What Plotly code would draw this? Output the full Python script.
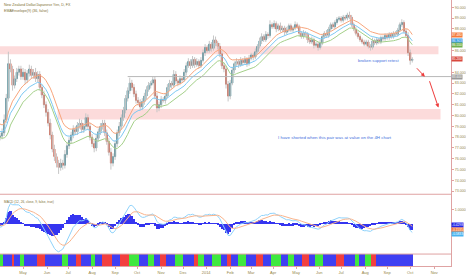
import numpy as np
import pandas as pd
import plotly.graph_objects as go

START = "2013-03-04"          # first (warm-up) candle, 2 trading days per candle

closes = [
    78.6, 79.0, 79.3, 79.6, 79.2, 78.8, 78.5, 78.2, 77.9, 78.0,
    78.1, 78.4, 79.6, 81.6, 84.8, 84.3, 82.8, 83.4, 84.0, 84.3,
    83.6, 84.0, 83.3, 83.9, 84.3, 83.7, 84.0, 83.4, 83.8, 82.6,
    81.9, 81.0, 80.3, 79.3, 78.2, 76.9, 76.2, 75.6, 75.2, 75.6,
    75.4, 76.4, 77.2, 77.7, 78.2, 78.7, 78.5, 79.1, 79.3, 78.7,
    79.0, 79.8, 79.0, 78.0, 77.4, 77.0, 77.9, 78.5, 79.0, 79.3,
    78.4, 77.6, 76.6, 75.6, 76.2, 77.4, 78.4, 79.0, 79.8, 80.5,
    81.6, 82.3, 83.0, 82.6, 82.0, 81.4, 81.2, 80.8, 81.3, 81.8,
    82.4, 82.8, 83.0, 83.3, 81.8, 80.7, 81.0, 81.5, 81.4, 81.8,
    82.6, 83.0, 82.8, 83.8, 83.2, 83.0, 83.4, 83.3, 84.0, 84.6,
    85.0, 84.6, 85.2, 84.7, 85.0, 84.6, 85.1, 85.8, 86.3, 86.0,
    86.6, 86.2, 87.0, 86.7, 86.4, 85.7, 84.6, 84.3, 82.9, 81.8,
    83.0, 84.2, 84.8, 85.0, 84.7, 85.1, 84.9, 85.2, 84.8, 85.3,
    85.6, 85.4, 85.9, 86.4, 86.9, 87.3, 87.0, 87.5, 87.4, 88.4,
    88.2, 88.5, 88.0, 88.3, 87.9, 88.1, 87.7, 87.9, 88.3, 87.9,
    88.1, 88.4, 88.2, 87.6, 87.3, 87.6, 87.5, 87.0, 86.8, 87.0,
    86.5, 86.6, 86.3, 86.7, 87.3, 87.6, 87.4, 88.0, 88.4, 88.2,
    88.6, 88.9, 89.0, 88.8, 89.1, 89.0, 89.3, 89.1, 88.4, 88.0,
    87.6, 87.3, 87.0, 86.8, 86.6, 86.8, 86.4, 86.3, 86.9, 86.7,
    87.0, 86.8, 87.2, 87.1, 87.4, 87.2, 87.5, 87.3, 87.6, 87.5,
    87.9, 88.4, 88.6, 87.8, 87.4, 85.8, 85.1, 85.2,
]

wick_up = [
    0.6, 0.6, 0.5, 0.6, 0.5, 0.6, 0.5, 0.6, 0.5, 0.6,
    0.3, 0.4, 0.5, 0.4, 1.1, 0.4, 0.3, 0.3, 0.4, 0.3,
    0.3, 0.4, 0.3, 0.3, 0.4, 0.3, 0.3, 0.4, 0.3, 0.3,
    0.3, 0.4, 0.3, 0.3, 0.4, 0.3, 0.4, 0.3, 0.3, 0.4,
    0.3, 0.4, 0.3, 0.3, 0.3, 0.4, 0.3, 0.3, 0.4, 0.3,
    0.3, 0.4, 0.3, 0.3, 0.3, 0.3, 0.4, 0.3, 0.3, 0.3,
    0.3, 0.3, 0.3, 0.4, 0.3, 0.3, 0.3, 0.4, 0.3, 0.3,
    0.3, 0.3, 0.5, 0.3, 0.3, 0.3, 0.3, 0.3, 0.3, 0.3,
    0.3, 0.3, 0.2, 0.3, 0.3, 0.3, 0.3, 0.3, 0.2, 0.3,
    0.3, 0.3, 0.2, 0.4, 0.3, 0.2, 0.3, 0.2, 0.3, 0.3,
    0.3, 0.2, 0.3, 0.2, 0.3, 0.2, 0.3, 0.3, 0.3, 0.2,
    0.3, 0.2, 0.4, 0.3, 0.2, 0.3, 0.3, 0.3, 0.3, 0.3,
    0.3, 0.3, 0.2, 0.3, 0.2, 0.3, 0.2, 0.3, 0.2, 0.3,
    0.2, 0.2, 0.3, 0.2, 0.3, 0.3, 0.2, 0.3, 0.2, 0.4,
    0.2, 0.3, 0.2, 0.2, 0.3, 0.2, 0.2, 0.3, 0.2, 0.2,
    0.2, 0.3, 0.2, 0.2, 0.2, 0.3, 0.2, 0.2, 0.2, 0.3,
    0.2, 0.2, 0.2, 0.3, 0.2, 0.2, 0.3, 0.2, 0.2, 0.2,
    0.2, 0.2, 0.2, 0.2, 0.2, 0.2, 0.2, 0.3, 0.2, 0.2,
    0.2, 0.2, 0.2, 0.2, 0.2, 0.2, 0.2, 0.2, 0.3, 0.2,
    0.2, 0.2, 0.2, 0.2, 0.2, 0.2, 0.2, 0.2, 0.2, 0.2,
    0.2, 0.2, 0.3, 0.2, 0.2, 0.3, 0.3, 0.2,
]

wick_dn = [
    0.6, 0.5, 0.6, 0.5, 0.6, 0.5, 0.6, 0.5, 0.6, 0.5,
    0.3, 0.3, 0.3, 0.3, 0.3, 0.3, 0.5, 0.3, 0.3, 0.3,
    0.3, 0.3, 0.4, 0.3, 0.3, 0.3, 0.3, 0.3, 0.3, 0.3,
    0.3, 0.3, 0.4, 0.3, 0.4, 0.3, 0.4, 0.4, 0.6, 0.3,
    0.4, 0.3, 0.3, 0.3, 0.3, 0.3, 0.3, 0.3, 0.3, 0.3,
    0.3, 0.3, 0.3, 0.3, 0.3, 0.4, 0.3, 0.3, 0.3, 0.3,
    0.3, 0.3, 0.3, 0.6, 0.3, 0.3, 0.3, 0.3, 0.3, 0.3,
    0.3, 0.3, 0.3, 0.3, 0.3, 0.3, 0.3, 0.3, 0.3, 0.3,
    0.3, 0.2, 0.3, 0.2, 0.3, 0.4, 0.3, 0.3, 0.2, 0.3,
    0.2, 0.3, 0.3, 0.2, 0.3, 0.3, 0.2, 0.3, 0.2, 0.3,
    0.2, 0.3, 0.2, 0.3, 0.2, 0.3, 0.2, 0.2, 0.3, 0.2,
    0.2, 0.3, 0.2, 0.3, 0.3, 0.3, 0.3, 0.3, 0.4, 0.5,
    0.3, 0.2, 0.3, 0.2, 0.3, 0.2, 0.3, 0.2, 0.3, 0.2,
    0.2, 0.3, 0.2, 0.2, 0.2, 0.3, 0.2, 0.2, 0.3, 0.2,
    0.2, 0.2, 0.3, 0.2, 0.2, 0.2, 0.3, 0.2, 0.2, 0.2,
    0.2, 0.2, 0.2, 0.3, 0.2, 0.2, 0.2, 0.3, 0.2, 0.2,
    0.3, 0.2, 0.3, 0.2, 0.2, 0.2, 0.2, 0.2, 0.2, 0.2,
    0.2, 0.2, 0.2, 0.2, 0.2, 0.2, 0.2, 0.2, 0.2, 0.2,
    0.2, 0.2, 0.2, 0.2, 0.2, 0.2, 0.2, 0.3, 0.2, 0.2,
    0.2, 0.2, 0.2, 0.2, 0.2, 0.2, 0.2, 0.2, 0.2, 0.2,
    0.2, 0.2, 0.2, 0.2, 0.2, 0.3, 0.4, 0.2,
]

# bottom colour strip: (colour code, number of candles)
strip_runs = [
    ("B", 10), ("G", 2), ("B", 4), ("R", 1), ("B", 3), ("G", 2), ("B", 6), ("R", 4),
    ("B", 8), ("G", 3), ("B", 4), ("R", 2), ("B", 5), ("G", 2), ("B", 3), ("R", 5),
    ("B", 4), ("R", 4), ("G", 5), ("B", 4), ("G", 3), ("B", 3), ("R", 3), ("B", 4),
    ("G", 4), ("B", 5), ("R", 2), ("G", 3), ("B", 4), ("G", 4), ("B", 3), ("R", 2),
    ("B", 3), ("G", 4), ("B", 5), ("R", 3), ("B", 4), ("G", 5), ("B", 3), ("G", 3),
    ("B", 4), ("R", 3), ("B", 3), ("G", 4), ("B", 6), ("R", 4), ("B", 5), ("G", 2),
    ("B", 3), ("G", 3), ("R", 2), ("B", 6),
]

month_starts = ["2013-05-01", "2013-06-01", "2013-07-01", "2013-08-01", "2013-09-01",
                "2013-10-01", "2013-11-01", "2013-12-01", "2014-01-01", "2014-02-01",
                "2014-03-01", "2014-04-01", "2014-05-01", "2014-06-01", "2014-07-01",
                "2014-08-01", "2014-09-01", "2014-10-01", "2014-11-01"]
month_labels = ["May", "Jun", "Jul", "Aug", "Sep", "Oct", "Nov", "Dec", "2014", "Feb",
                "Mar", "Apr", "May", "Jun", "Jul", "Aug", "Sep", "Oct", "Nov"]

price_ticks = list(range(73, 91))
macd_ticks = [-1, 0, 1]
support_level = 83.6

# ---------------------------------------------------------------- derived
def bd(d):
    return int(np.busday_count(np.datetime64(START, "D"), np.datetime64(d, "D")))

n = len(closes)
dates = pd.bdate_range(START, periods=n, freq="2B")
xs = np.array([bd(str(d.date())) for d in dates])
c = np.array(closes)
o = np.concatenate([[closes[0]], c[:-1]])
body_hi = np.maximum(o, c)
body_lo = np.minimum(o, c)
highs = body_hi + np.array(wick_up)
lows = body_lo - np.array(wick_dn)

SPAN = 16
ma_mid = pd.Series(c).ewm(span=SPAN, adjust=False).mean().values
ma_up = pd.Series(highs).ewm(span=SPAN, adjust=False).mean().values
ma_dn = pd.Series(lows).ewm(span=SPAN, adjust=False).mean().values

ema_f = pd.Series(c).ewm(span=6, adjust=False).mean()
ema_s = pd.Series(c).ewm(span=13, adjust=False).mean()
macd = (ema_f - ema_s).values
signal = pd.Series(macd).ewm(span=8, adjust=False).mean().values
hist = macd - signal

cmap = {"B": "#3f3ff2", "G": "#3fe83f", "R": "#f23f3f"}
strip_cols = []
for code, cnt in strip_runs:
    strip_cols += [cmap[code]] * cnt
strip_cols = (strip_cols + [cmap["B"]] * n)[:n]

OLIVE = "#958546"
PINK = "#dfa3a3"
FONT = "Liberation Sans"

fig = go.Figure()

wx, wy = [], []
for xi, lo, hi in zip(xs, lows, highs):
    wx += [xi, xi, None]
    wy += [lo, hi, None]
fig.add_trace(go.Scatter(x=wx, y=wy, mode="lines", line=dict(color="#c6c6c6", width=1),
                         hoverinfo="skip"))
fig.add_trace(go.Scatter(x=xs, y=ma_up, mode="lines", line=dict(color="#f7a57c", width=1)))
fig.add_trace(go.Scatter(x=xs, y=ma_mid, mode="lines", line=dict(color="#7cc8f2", width=1)))
fig.add_trace(go.Scatter(x=xs, y=ma_dn, mode="lines", line=dict(color="#a3cf88", width=1)))
fig.add_trace(go.Candlestick(
    x=xs, open=o, high=body_hi, low=body_lo, close=c, whiskerwidth=0,
    increasing=dict(line=dict(color="#3b7f8d", width=1), fillcolor="#3b7f8d"),
    decreasing=dict(line=dict(color="#c9553f", width=1), fillcolor="#c9553f")))

# MACD pane
fig.add_trace(go.Bar(x=xs, y=hist, width=2.0, marker=dict(color="#3535f0", line=dict(width=0)),
                     yaxis="y2"))
fig.add_trace(go.Scatter(x=xs, y=macd, mode="lines", line=dict(color="#8fd2fa", width=1),
                         yaxis="y2"))
fig.add_trace(go.Scatter(x=xs, y=signal, mode="lines", line=dict(color="#f9b48c", width=1),
                         yaxis="y2"))
# colour strip
fig.add_trace(go.Bar(x=xs, y=[1] * n, width=2.0, marker=dict(color=strip_cols, line=dict(width=0)),
                     yaxis="y3"))

X0 = bd("2013-04-01")
X1 = bd("2014-11-25")
Y_RANGE = [72.72, 90.68]
PX_PER_UNIT = 195 / (Y_RANGE[1] - Y_RANGE[0])

tag_vals = [ma_up[-1], ma_mid[-1], ma_dn[-1], closes[-1], support_level]
shown_ticks = [v for v in price_ticks
               if min(abs(v - t) for t in tag_vals) * PX_PER_UNIT > 3.6]
MACD_RANGE = [-2.1, 2.1]
MACD_PX = 60 / (MACD_RANGE[1] - MACD_RANGE[0])
macd_tags = [hist[-1], signal[-1], macd[-1]]
macd_center = float(np.mean(macd_tags))
shown_mticks = [v for v in macd_ticks if abs(v - macd_center) * MACD_PX > 9]

fig.update_layout(
    width=466, height=275, margin=dict(l=0, r=13, t=0, b=8),
    paper_bgcolor="white", plot_bgcolor="white", showlegend=False,
    font=dict(family=FONT), bargap=0,
    xaxis=dict(domain=[0, 1], range=[X0, X1], anchor="y3", rangeslider=dict(visible=False),
               tickvals=[bd(m) for m in month_starts], ticktext=month_labels,
               tickfont=dict(size=4, color=OLIVE), ticks="outside", ticklen=2, tickcolor=PINK,
               showgrid=False, zeroline=False, showline=True, linecolor=PINK, linewidth=1),
    yaxis=dict(domain=[0.2697, 1], range=Y_RANGE, side="right", anchor="x",
               tickvals=shown_ticks, ticktext=[f"{v:.3f}" for v in shown_ticks],
               tickfont=dict(size=3.6, color=OLIVE), ticks="outside", ticklen=2, tickcolor=PINK,
               showgrid=False, zeroline=False, showline=True, linecolor=PINK, linewidth=1),
    yaxis2=dict(domain=[0.0449, 0.2697], range=MACD_RANGE, side="right", anchor="x",
                tickvals=shown_mticks, ticktext=[f"{v:.4f}" for v in shown_mticks],
                tickfont=dict(size=3.6, color=OLIVE), ticks="outside", ticklen=2, tickcolor=PINK,
                showgrid=False, zeroline=False, showline=True, linecolor=PINK, linewidth=1),
    yaxis3=dict(domain=[0, 0.0449], range=[0, 1], side="right", anchor="x",
                showticklabels=False, ticks="", showgrid=False, zeroline=False,
                showline=True, linecolor=PINK, linewidth=1),
)

shapes = [
    dict(type="rect", xref="x", yref="y", x0=X0, x1=bd("2014-11-07"), y0=85.66, y1=86.40,
         fillcolor="rgba(248,170,170,0.42)", line=dict(width=0), layer="below"),
    dict(type="rect", xref="x", yref="y", x0=bd("2013-06-17"), x1=bd("2014-11-11"), y0=79.63,
         y1=80.60, fillcolor="rgba(248,170,170,0.42)", line=dict(width=0), layer="below"),
    dict(type="line", xref="x", yref="y", x0=bd("2013-09-18"), x1=X1, y0=support_level,
         y1=support_level, line=dict(color="#b8b8b8", width=1)),
    dict(type="line", xref="paper", yref="paper", x0=0, x1=1, y0=0.2697, y1=0.2697,
         line=dict(color=PINK, width=1)),
    dict(type="line", xref="paper", yref="paper", x0=0, x1=1, y0=0.0449, y1=0.0449,
         line=dict(color=PINK, width=1)),
]
fig.update_layout(shapes=shapes)

ann = [
    dict(xref="paper", yref="paper", x=0.004, y=0.995, xanchor="left", yanchor="top",
         text="New Zealand Dollar/Japanese Yen, D, FX", showarrow=False,
         font=dict(size=3.6, color="#7d6f35")),
    dict(xref="paper", yref="paper", x=0.004, y=0.972, xanchor="left", yanchor="top",
         text="EMAEnvelope(9) (36, false)", showarrow=False,
         font=dict(size=3.6, color="#7d6f35")),
    dict(xref="paper", yref="paper", x=0.004, y=0.255, xanchor="left", yanchor="top",
         text="MACD (12, 26, close, 9, false, true)", showarrow=False,
         font=dict(size=3.2, color="#7d6f35")),
    dict(xref="x", yref="y", x=bd("2014-08-20"), y=85.06, text="broken support retest",
         showarrow=False, font=dict(size=4.3, color="#3f6fdc")),
    dict(xref="x", yref="y", x=bd("2014-06-23"), y=78.0,
         text="I have shorted when this pair was at value on the 4H chart",
         showarrow=False, font=dict(size=4.4, color="#3f6fdc")),
    dict(xref="x", yref="y", x=bd("2014-10-21"), y=83.59, ax=bd("2014-10-08"), ay=84.51,
         axref="x", ayref="y", text="", showarrow=True, arrowhead=2, arrowsize=0.8,
         arrowwidth=1, arrowcolor="#ee3b3b"),
    dict(xref="x", yref="y", x=bd("2014-11-07"), y=80.73, ax=bd("2014-10-27"), ay=83.31,
         axref="x", ayref="y", text="", showarrow=True, arrowhead=2, arrowsize=0.8,
         arrowwidth=1, arrowcolor="#ee3b3b"),
]

def tag(yref, val, bg, fmt="{:.3f}", fg="white", ypos=None, yshift=0):
    return dict(xref="paper", yref=yref, x=1.0, y=val if ypos is None else ypos,
                xanchor="left", yanchor="middle", yshift=yshift,
                text=fmt.format(val), showarrow=False, bgcolor=bg, borderpad=0.1,
                font=dict(size=3.2, color=fg))

ann += [
    tag("y", ma_up[-1], "#f5793a"),
    tag("y", ma_mid[-1], "#2a96e6"),
    tag("y", ma_dn[-1], "#6fb04e"),
    tag("y", closes[-1], "#d9483e"),
    tag("y", support_level, "#9a9a9a"),
    # MACD value tags stacked like the reference's price-scale badges
    tag("y2", hist[-1], "#2626e8", "{:.4f}", ypos=macd_center, yshift=4.4),
    tag("y2", signal[-1], "#f5793a", "{:.4f}", ypos=macd_center, yshift=0),
    tag("y2", macd[-1], "#49b4f0", "{:.4f}", ypos=macd_center, yshift=-4.4),
]
fig.update_layout(annotations=ann)

fig.write_html("out.html")
